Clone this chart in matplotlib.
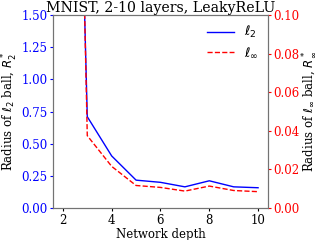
import numpy as np
import matplotlib
matplotlib.use('Agg')
import matplotlib.pyplot as plt

plt.rcParams['font.family'] = 'DejaVu Serif'
plt.rcParams['font.size'] = 8.5

# network depth vs. certified radius
depth = [2, 3, 4, 5, 6, 7, 8, 9, 10]
r_l2 = [8.0, 0.71, 0.405, 0.217, 0.200, 0.165, 0.212, 0.165, 0.158]
r_linf = [0.62, 0.0375, 0.0216, 0.0117, 0.0107, 0.0088, 0.0114, 0.0091, 0.0085]

fig, ax1 = plt.subplots(figsize=(3.2, 2.4), dpi=100)
ax2 = ax1.twinx()

l1, = ax1.plot(depth, r_l2, color='blue', lw=1.0, label=r'$\ell_2$')
l2, = ax2.plot(depth, r_linf, color='red', ls='--', lw=1.0, label=r'$\ell_\infty$')

ax1.set_ylim(0, 1.5)
ax2.set_ylim(0, 0.1)
ax1.set_yticks([0, 0.25, 0.5, 0.75, 1.0, 1.25, 1.5])
ax2.set_yticks([0, 0.02, 0.04, 0.06, 0.08, 0.1])
ax1.set_xticks([2, 4, 6, 8, 10])

for ax in (ax1, ax2):
    ax.tick_params(length=2.2, pad=2)
    for sp in ax.spines.values():
        sp.set_color('0.45')
ax1.tick_params(axis='y', colors='blue')
ax2.tick_params(axis='y', colors='red')

ax1.set_xlabel('Network depth', labelpad=1)
ax1.set_ylabel(r'Radius of $\ell_2$ ball, $R_2^*$', labelpad=0.5)
ax2.set_ylabel(r'Radius of $\ell_\infty$ ball, $R_\infty^*$', labelpad=0.5)
ax1.set_title('MNIST, 2-10 layers, LeakyReLU', pad=2)

ax1.legend(handles=[l1, l2], loc='upper right', frameon=False, fontsize=9.5,
           handlelength=2.0, borderaxespad=0.3, labelspacing=0.4)

fig.subplots_adjust(left=0.166, right=0.837, top=0.9375, bottom=0.133)
fig.savefig('out.png', dpi=100)
